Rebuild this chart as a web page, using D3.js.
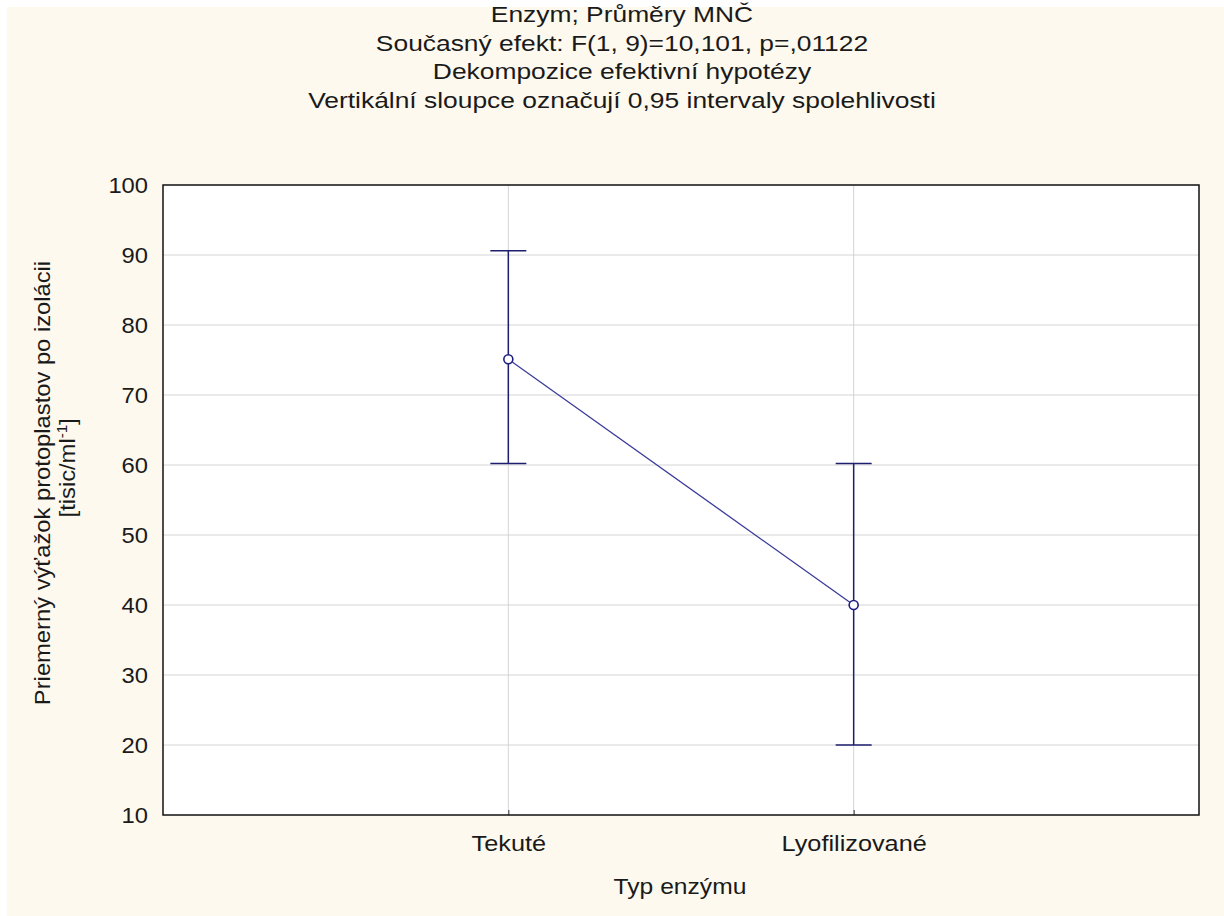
<!DOCTYPE html>
<html>
<head>
<meta charset="utf-8">
<script src="https://cdn.jsdelivr.net/npm/d3@7"></script>
<style>
  body { margin: 0; background: #fff; }
  text { font-family: "Liberation Sans", Arial, sans-serif; fill: #1a1a1a; }
</style>
</head>
<body>
<script>
var outerWidth = 1224, outerHeight = 916;
var margin = { top: 185, right: 25, bottom: 101, left: 163 };
var width = outerWidth - margin.left - margin.right,
  height = outerHeight - margin.top - margin.bottom;

// data
var categories = ["Tekuté", "Lyofilizované"];
var means = [75.1, 40.0];
var ciLow = [60.2, 20.0];
var ciHigh = [90.6, 60.2];
var yTicks = [10, 20, 30, 40, 50, 60, 70, 80, 90, 100];
var titleLines = [
  "Enzym; Průměry MNČ",
  "Současný efekt: F(1, 9)=10,101, p=,01122",
  "Dekompozice efektivní hypotézy",
  "Vertikální sloupce označují 0,95 intervaly spolehlivosti"
];

var data = categories.map(function (c, i) {
  return { cat: c, mean: means[i], lo: ciLow[i], hi: ciHigh[i] };
});

var x = d3.scalePoint().domain(categories).range([0, width]).padding(1);
var y = d3.scaleLinear().domain([10, 100]).range([height, 0]);

var svg = d3.select("body").append("svg")
  .attr("width", outerWidth)
  .attr("height", outerHeight);

svg.append("rect")                     // cream page background
  .attr("x", 7).attr("y", 7)
  .attr("width", outerWidth - 7).attr("height", outerHeight - 7)
  .attr("fill", "#fdf9ee");

// titles (the original font is a bit wider than Liberation Sans, so stretch it)
svg.selectAll(".title")
  .data(titleLines)
  .enter().append("text")
  .attr("class", "title")
  .attr("transform", function (d, i) { return "translate(622," + (22 + i * 28.5) + ") scale(1.2,1)"; })
  .attr("text-anchor", "middle")
  .style("font-size", "22px")
  .text(function (d) { return d; });

var g = svg.append("g")
  .attr("transform", "translate(" + margin.left + "," + margin.top + ")");

g.append("rect")                       // plot area
  .attr("width", width).attr("height", height)
  .attr("fill", "#fff");

// grid lines
g.selectAll(".hgrid")
  .data(yTicks.slice(1, -1))
  .enter().append("line")
  .attr("x1", 0).attr("x2", width)
  .attr("y1", function (d) { return y(d); })
  .attr("y2", function (d) { return y(d); })
  .attr("stroke", "#d4d4d4");

g.selectAll(".vgrid")
  .data(categories)
  .enter().append("line")
  .attr("y1", 0).attr("y2", height)
  .attr("x1", function (d) { return x(d); })
  .attr("x2", function (d) { return x(d); })
  .attr("stroke", "#d4d4d4");

// y axis
var yAxis = d3.axisLeft(y).tickValues(yTicks).tickSize(0).tickPadding(15);
var ya = g.append("g").call(yAxis);
ya.select(".domain").remove();
ya.selectAll("text")
  .style("font-size", "22px").attr("fill", "#1a1a1a")
  .style("transform-box", "fill-box")
  .style("transform-origin", "100% 50%")
  .style("transform", "scaleX(1.08)");

// x axis
var xAxis = d3.axisBottom(x).tickSize(-5).tickPadding(20);
var xa = g.append("g")
  .attr("transform", "translate(0," + height + ")")
  .call(xAxis);
xa.select(".domain").remove();
xa.selectAll("line").attr("stroke", "#333");
xa.selectAll("text")
  .style("font-size", "22px").attr("fill", "#1a1a1a")
  .style("transform-box", "fill-box")
  .style("transform-origin", "50% 50%")
  .style("transform", "scaleX(1.15)");

// frame
g.append("rect")
  .attr("width", width).attr("height", height)
  .attr("fill", "none")
  .attr("stroke", "#111")
  .attr("stroke-width", 1.5);

// mean line
var line = d3.line()
  .x(function (d) { return x(d.cat); })
  .y(function (d) { return y(d.mean); });

g.append("path")
  .datum(data)
  .attr("d", line)
  .attr("fill", "none")
  .attr("stroke", "#3a3a9a")
  .attr("stroke-width", 1.3);

// error bars
var eb = g.selectAll(".eb").data(data).enter().append("g");
eb.append("line")
  .attr("x1", function (d) { return x(d.cat); })
  .attr("x2", function (d) { return x(d.cat); })
  .attr("y1", function (d) { return y(d.lo); })
  .attr("y2", function (d) { return y(d.hi); })
  .attr("stroke", "#1e1e6e").attr("stroke-width", 1.5);
["lo", "hi"].forEach(function (k) {
  eb.append("line")
    .attr("x1", function (d) { return x(d.cat) - 18; })
    .attr("x2", function (d) { return x(d.cat) + 18; })
    .attr("y1", function (d) { return y(d[k]); })
    .attr("y2", function (d) { return y(d[k]); })
    .attr("stroke", "#1e1e6e").attr("stroke-width", 1.5);
});

g.selectAll(".dot")
  .data(data)
  .enter().append("circle")
  .attr("cx", function (d) { return x(d.cat); })
  .attr("cy", function (d) { return y(d.mean); })
  .attr("r", 4.5)
  .attr("fill", "#fff")
  .attr("stroke", "#1e1e80")
  .attr("stroke-width", 1.6);

// axis titles
svg.append("text")
  .attr("transform", "translate(" + (margin.left + width / 2 - 1) + ",894) scale(1.12,1)")
  .attr("text-anchor", "middle")
  .style("font-size", "22px")
  .text("Typ enzýmu");

var yl = svg.append("text")
  .attr("transform", "translate(50,483) rotate(-90) scale(1.08,1)")
  .attr("text-anchor", "middle")
  .style("font-size", "22px");
yl.append("tspan").attr("x", 0).attr("dy", 0).text("Priemerný výťažok protoplastov po izolácii");
var t2 = yl.append("tspan").attr("x", 14).attr("dy", 25);
t2.append("tspan").text("[tisic/ml");
t2.append("tspan").attr("dy", -8).style("font-size", "14px").text("-1");
t2.append("tspan").attr("dy", 8).text("]");
</script>
</body>
</html>
